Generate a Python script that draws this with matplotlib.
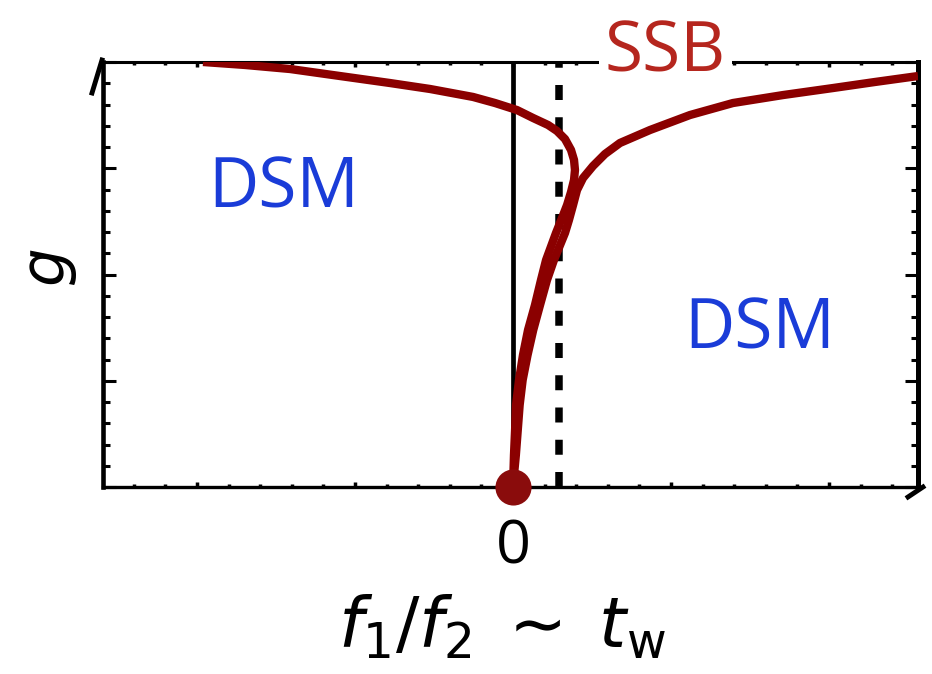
import matplotlib
matplotlib.use('Agg')
import matplotlib.pyplot as plt
from matplotlib.ticker import MultipleLocator
from matplotlib.lines import Line2D

plt.rcParams['font.family'] = ['Open Sans', 'DejaVu Sans']
plt.rcParams['mathtext.fontset'] = 'dejavusans'

# Phase boundary branches (data units)
left_x = [-1.962, -1.696, -1.411, -1.095, -0.778, -0.525, -0.253, -0.114, 0.025,
          0.127, 0.222, 0.278, 0.329, 0.367, 0.386, 0.392, 0.386, 0.367, 0.342,
          0.310, 0.272, 0.209, 0.177, 0.139, 0.095, 0.063, 0.038, 0.019, 0.013,
          0.006, 0.0]
left_y = [4.000, 3.972, 3.934, 3.868, 3.802, 3.746, 3.671, 3.614, 3.548,
          3.473, 3.407, 3.351, 3.275, 3.172, 3.078, 2.984, 2.889, 2.776, 2.654,
          2.532, 2.391, 2.136, 1.948, 1.713, 1.478, 1.242, 1.007, 0.772, 0.536,
          0.301, 0.0]
right_x = [2.563, 2.291, 2.025, 1.709, 1.392, 1.120, 0.867, 0.677, 0.582, 0.506,
           0.443, 0.405, 0.380, 0.354, 0.329, 0.259, 0.215, 0.171, 0.128, 0.092,
           0.061, 0.042, 0.030, 0.018, 0.009, 0.0]
right_y = [3.868, 3.812, 3.755, 3.689, 3.614, 3.501, 3.360, 3.238, 3.134, 3.021,
           2.908, 2.795, 2.654, 2.513, 2.391, 2.136, 1.948, 1.713, 1.478, 1.242,
           1.007, 0.772, 0.536, 0.301, 0.160, 0.0]
solid_x = 0.0
dashed_x = 0.290
dot_x, dot_y = 0.0, 0.0
xlim = (-2.595, 2.563)
ylim = (0.0, 4.0)
xtick_vals = [0]
xtick_labels = ['0']

red = '#8b0000'
dotred = '#8a0c0c'
blue = '#1a3cd8'
ssbred = '#b5261e'

fig = plt.figure(figsize=(9.32, 6.74), dpi=100)
ax = fig.add_axes([103/932, 1-487/674, (918-103)/932, (487-62)/674])
ax.set_xlim(*xlim)
ax.set_ylim(*ylim)

ax.axvline(solid_x, color='black', lw=3.4, zorder=2)
ax.axvline(dashed_x, color='black', lw=5.4, dashes=(2.0, 2.3), zorder=2)

for xs, ys in [(left_x, left_y), (right_x, right_y)]:
    ax.plot(xs, ys, color=red, lw=6.0, solid_joinstyle='round',
            solid_capstyle='butt', zorder=3)
ax.plot([dot_x], [dot_y], 'o', ms=26, color=dotred, mec='none', clip_on=False, zorder=5)

# spines
for s, w in [('left', 3.3), ('right', 3.6), ('top', 2.2), ('bottom', 2.4)]:
    ax.spines[s].set_linewidth(w)

ax.xaxis.set_major_locator(MultipleLocator(1))
ax.xaxis.set_minor_locator(MultipleLocator(0.2))
ax.yaxis.set_major_locator(MultipleLocator(1))
ax.yaxis.set_minor_locator(MultipleLocator(0.2))
ax.tick_params(axis='x', which='major', direction='in', top=True, bottom=True, length=3.5, width=2.5)
ax.tick_params(axis='x', which='minor', direction='in', top=True, bottom=True, length=2.2, width=2.5)
ax.tick_params(axis='y', which='major', direction='in', left=True, right=True, length=9.5, width=2.2, labelleft=False)
ax.tick_params(axis='y', which='minor', direction='in', left=True, right=True, length=5.0, width=2.2)

# only the "0" label on x
sec = ax.secondary_xaxis('bottom')
sec.set_xticks(xtick_vals, xtick_labels)
sec.tick_params(length=0, labelsize=44, pad=22)
sec.spines['bottom'].set_visible(False)
ax.tick_params(axis='x', which='both', labelbottom=False)

ax.text(-1.45, 2.8, 'DSM', color=blue, fontsize=50, ha='center', va='center')
ax.text(1.56, 1.47, 'DSM', color=blue, fontsize=50, ha='center', va='center')
ax.text(0.965, 4.08, 'SSB', color=ssbred, fontsize=50, ha='center', va='center',
        bbox=dict(facecolor='white', edgecolor='none', pad=4), clip_on=False, zorder=6)

fig.text(49/932, 1-268/674, r'$g$', fontsize=44, rotation=90, ha='center', va='center')
fig.text(502/932, 1-630/674, r'$f_1/f_2\;\sim\;t_{\mathrm{w}}$', fontsize=50, ha='center', va='center')

# small corner strokes
fig.add_artist(Line2D([92/932, 102/932], [1-93/674, 1-60/674], color='black', lw=3.5))
fig.add_artist(Line2D([908/932, 923/932], [1-497/674, 1-487/674], color='black', lw=3.5))

fig.savefig('out.png', dpi=100)
